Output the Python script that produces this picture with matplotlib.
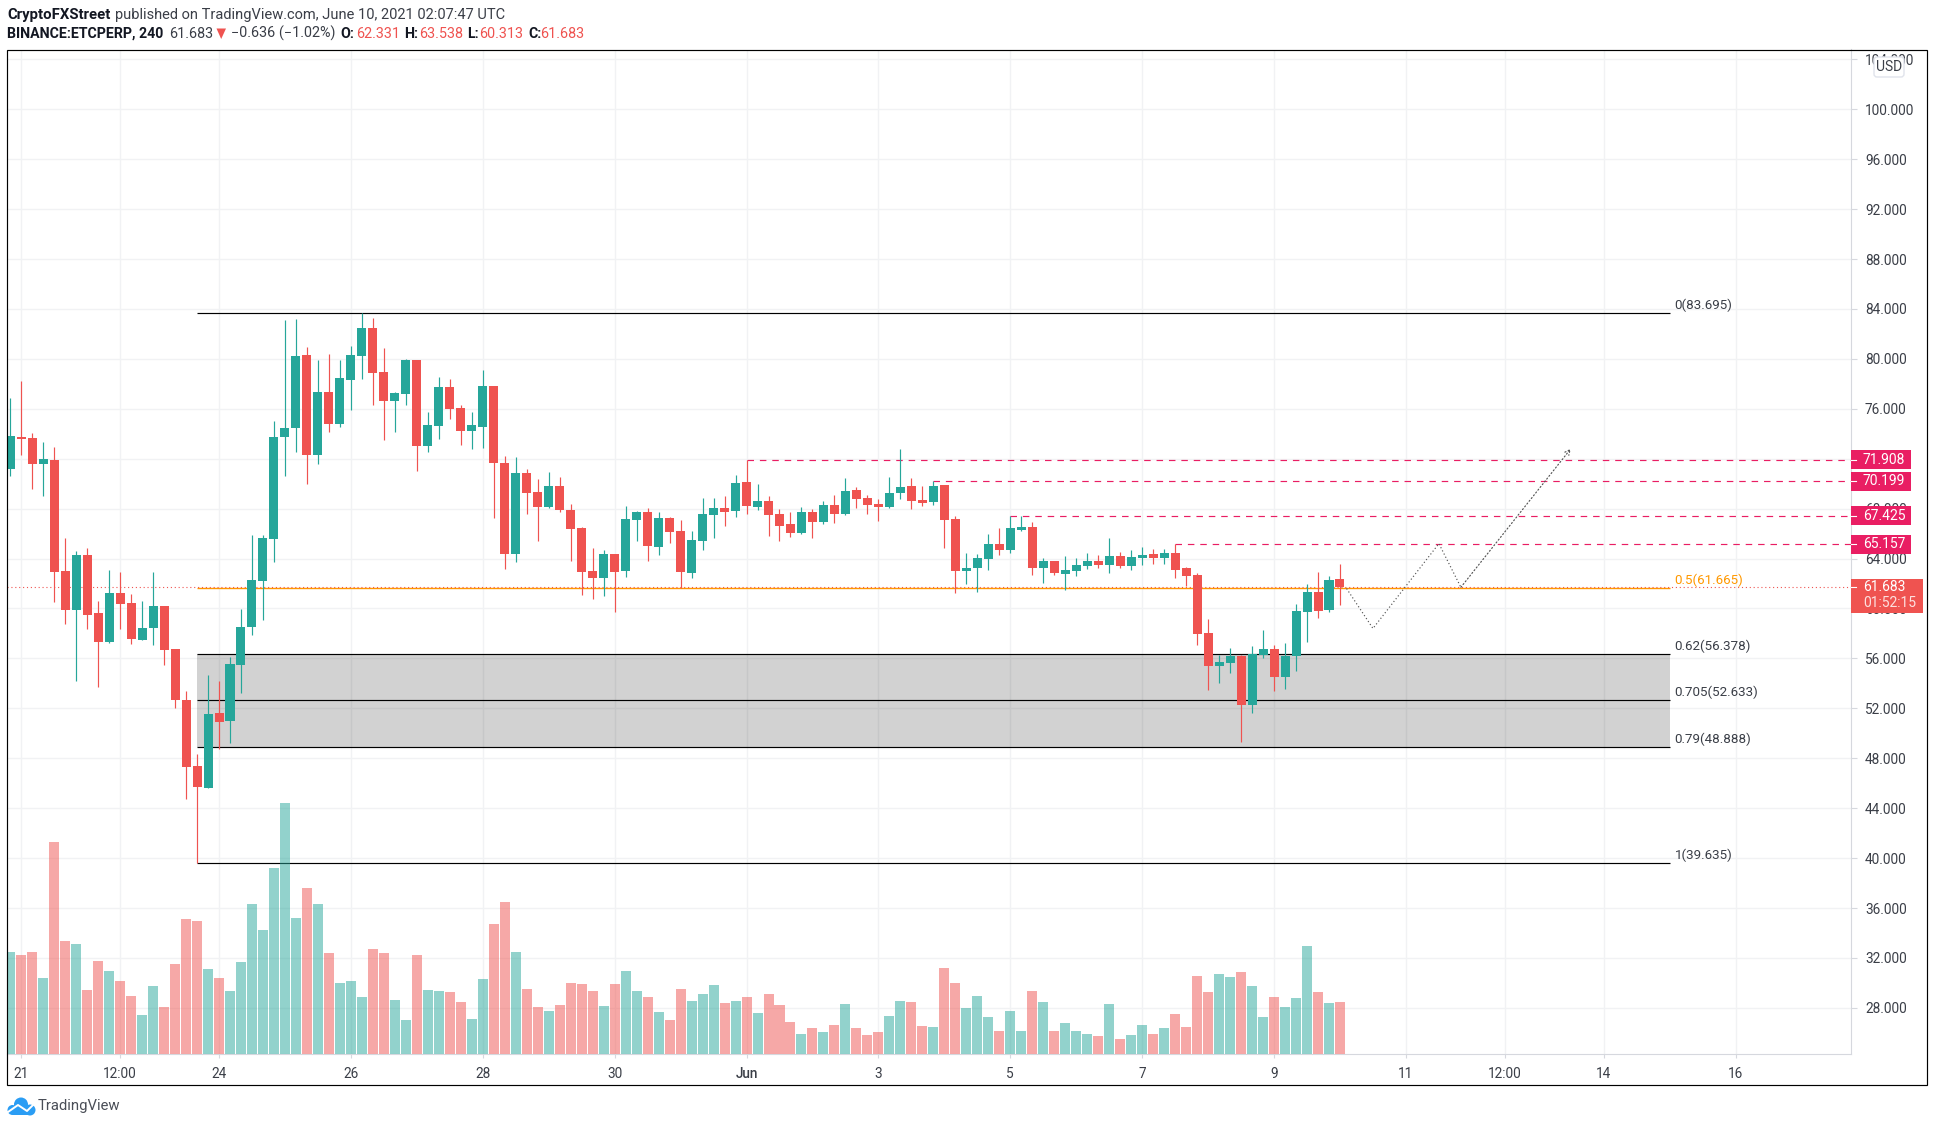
import matplotlib
matplotlib.use('Agg')
import matplotlib.pyplot as plt
from matplotlib.patches import Rectangle, FancyBboxPatch, Polygon, Circle
from matplotlib.transforms import Affine2D
import numpy as np

plt.rcParams['font.family'] = ['Roboto', 'DejaVu Sans']

# ETCPERP 4h candles
opens = [71.19, 73.76, 73.68, 71.59, 71.91, 63.02, 59.89, 64.30, 59.65, 57.33, 61.25, 60.45, 57.49, 58.45, 60.21,
         56.77, 52.68, 47.39, 45.63, 51.64, 51.00, 55.49, 58.53, 62.22, 65.58, 73.76, 74.48, 80.33, 72.31, 77.36,
         74.80, 78.32, 80.25, 82.49, 78.96, 76.64, 77.20, 79.93, 73.03, 74.64, 77.76, 76.08, 74.24, 74.56, 77.84,
         71.67, 64.38, 70.87, 69.35, 68.15, 69.83, 67.91, 66.46, 63.02, 62.46, 64.38, 63.02, 67.10, 67.75, 64.94,
         67.27, 66.23, 62.86, 65.42, 67.51, 68.07, 67.83, 70.15, 68.15, 68.63, 67.59, 66.79, 66.07, 67.75, 66.95,
         68.31, 67.59, 69.51, 68.87, 68.39, 68.15, 69.27, 69.83, 68.71, 68.55, 69.91, 67.19, 63.02, 63.26, 63.98,
         65.18, 64.70, 66.31, 66.55, 63.26, 63.82, 62.78, 63.02, 63.42, 63.82, 63.50, 64.22, 63.42, 64.06, 64.38,
         64.06, 64.46, 63.26, 62.70, 58.05, 55.41, 55.65, 56.21, 52.28, 56.29, 56.77, 54.53, 56.21, 59.74, 61.34,
         59.90, 62.331]
highs = [76.85, 78.24, 74.08, 73.35, 72.95, 65.66, 64.62, 64.86, 60.61, 63.10, 62.94, 61.17, 60.61, 62.94, 60.21,
         56.77, 53.40, 48.35, 54.68, 54.20, 56.13, 59.97, 65.90, 65.90, 75.04, 83.13, 83.21, 80.97, 79.93, 80.41,
         79.93, 81.05, 83.69, 83.29, 80.89, 77.36, 80.01, 79.93, 75.76, 78.56, 78.40, 76.32, 75.76, 79.12, 77.84,
         72.23, 72.15, 71.19, 70.39, 70.95, 70.55, 68.39, 66.54, 64.86, 64.70, 64.38, 68.23, 67.83, 68.07, 67.75,
         67.35, 67.11, 66.23, 68.87, 68.87, 69.03, 70.71, 71.89, 69.99, 69.03, 67.99, 67.75, 68.15, 67.99, 68.63,
         69.11, 70.47, 69.75, 69.11, 68.79, 70.55, 72.80, 70.47, 69.83, 70.20, 69.91, 67.43, 64.46, 64.38, 65.99,
         66.47, 67.40, 67.40, 66.95, 64.06, 63.82, 64.22, 64.06, 64.46, 64.30, 65.66, 64.54, 64.70, 64.94, 64.78,
         64.78, 65.16, 63.34, 62.86, 59.17, 56.29, 56.85, 56.29, 57.01, 58.29, 57.09, 57.25, 60.38, 61.98, 62.94,
         62.62, 63.538]
lows = [70.63, 72.31, 69.59, 69.03, 60.53, 58.77, 54.20, 58.37, 53.72, 57.25, 58.37, 57.17, 57.49, 57.09, 55.49,
        52.04, 44.75, 39.635, 45.63, 48.76, 49.24, 53.24, 57.89, 59.09, 63.74, 70.63, 72.55, 70.01, 71.59, 74.16,
        74.56, 75.92, 78.40, 76.32, 73.51, 74.16, 76.32, 71.03, 72.55, 73.59, 75.20, 73.11, 72.79, 72.87, 67.26,
        63.18, 63.74, 67.57, 65.42, 68.07, 67.75, 63.82, 61.09, 60.77, 61.01, 59.73, 62.54, 65.42, 63.82, 64.30,
        65.26, 61.63, 62.46, 64.70, 65.66, 66.63, 67.35, 67.59, 67.91, 65.82, 65.42, 65.74, 65.99, 65.66, 66.79,
        66.87, 67.51, 68.07, 67.59, 67.03, 68.07, 68.79, 67.99, 68.23, 68.31, 64.86, 61.26, 61.98, 61.34, 63.10,
        64.30, 64.46, 66.23, 62.70, 62.06, 62.70, 61.50, 62.62, 63.18, 63.26, 62.86, 63.26, 63.10, 63.50, 63.58,
        63.58, 62.46, 61.82, 57.09, 53.48, 54.05, 54.85, 49.32, 51.64, 56.05, 53.40, 53.56, 55.01, 57.33, 59.25,
        59.74, 60.313]
closes = [73.84, 73.59, 71.59, 71.99, 62.94, 59.89, 64.30, 59.49, 57.33, 61.25, 60.37, 57.57, 58.45, 60.21, 56.69,
          52.68, 47.31, 45.71, 51.56, 50.92, 55.57, 58.53, 62.30, 65.66, 73.76, 74.48, 80.25, 72.31, 77.36, 74.80,
          78.48, 80.33, 82.49, 78.88, 76.64, 77.28, 79.93, 73.03, 74.72, 77.76, 76.00, 74.24, 74.72, 77.84, 71.67,
          64.38, 70.87, 69.27, 68.15, 69.83, 67.91, 66.38, 62.94, 62.46, 64.38, 62.94, 67.18, 67.75, 65.02, 67.27,
          66.15, 62.94, 65.50, 67.59, 68.07, 67.75, 70.07, 68.23, 68.63, 67.51, 66.63, 66.07, 67.75, 66.95, 68.31,
          67.59, 69.43, 68.79, 68.31, 68.15, 69.27, 69.75, 68.63, 68.47, 69.83, 67.11, 63.02, 63.26, 64.06, 65.18,
          64.70, 66.47, 66.55, 63.26, 63.82, 62.86, 63.10, 63.50, 63.82, 63.50, 64.22, 63.42, 64.14, 64.30, 64.06,
          64.46, 63.10, 62.62, 57.97, 55.41, 55.73, 56.21, 52.28, 56.37, 56.77, 54.53, 56.21, 59.82, 61.34, 59.82,
          62.30, 61.683]
volumes = [306, 297, 306, 228, 636, 339, 330, 192, 279, 249, 219, 174, 117, 204, 141, 270, 405, 399, 255, 228,
           189, 276, 450, 372, 558, 753, 408, 498, 450, 303, 213, 219, 171, 315, 303, 162, 102, 297, 192, 189,
           186, 156, 105, 225, 390, 456, 306, 195, 141, 129, 147, 213, 210, 189, 144, 210, 249, 189, 171, 126,
           102, 195, 159, 180, 207, 153, 159, 171, 123, 180, 147, 96, 60, 78, 66, 87, 150, 78, 57, 66,
           114, 159, 156, 84, 81, 258, 213, 138, 174, 111, 69, 129, 69, 189, 156, 69, 93, 69, 60, 54,
           150, 45, 57, 87, 60, 78, 120, 81, 234, 186, 240, 231, 246, 204, 111, 171, 141, 168, 324, 186,
           153, 156]

price_ticks = [28, 32, 36, 40, 44, 48, 52, 56, 60, 64, 68, 72, 76, 80, 84, 88, 92, 96, 100, 104]
time_pos = [1, 10, 19, 31, 43, 55, 67, 79, 91, 103, 115, 127, 136, 145, 157]
time_labels = ['21', '12:00', '24', '26', '28', '30', 'Jun', '3', '5', '7', '9', '11', '12:00', '14', '16']

fib_levels = [83.695, 61.665, 56.378, 52.633, 48.888, 39.635]
fib_labels = ['0(83.695)', '0.5(61.665)', '0.62(56.378)', '0.705(52.633)', '0.79(48.888)', '1(39.635)']
fib_start, fib_end = 17, 151

res_levels = [71.908, 70.199, 67.425, 65.157]
res_start = [67, 84, 91, 106]

path_x = [121.6, 124, 130, 132, 142]
path_y = [61.6, 58.4, 65.2, 61.7, 72.8]
last_price = 61.683

TEAL = '#26a69a'
RED = '#ef5350'
PINK = '#e91e63'
ORANGE = '#ff9800'
GRID = '#f1f2f4'
TEXT = '#3a3e47'

W, H = 1935, 1127
# pane box in pixels
L, T, R, B = 6.5, 49.5, 1851, 1054


def fx(px):
    return px / W


def fy(py):
    return 1 - py / H


fig = plt.figure(figsize=(W / 100, H / 100), dpi=100, facecolor='white')
rect = [fx(L), fy(B), fx(R) - fx(L), fy(T) - fy(B)]
ax = fig.add_axes(rect, zorder=1)
ax_vol = fig.add_axes(rect, zorder=2)
ax_vol.patch.set_alpha(0)
ax_vol.axis('off')

x = np.arange(len(closes))
o, h, l, c = map(np.array, (opens, highs, lows, closes))
up = c >= o
colors = np.where(up, TEAL, RED)

ax.set_xlim((L - 10.2) / 10.99, (R - 10.2) / 10.99)
ax.set_ylim(100 - (B - 109.3) / 12.48, 100 - (T - 109.3) / 12.48)
ax_vol.set_xlim(ax.get_xlim())
ax_vol.set_ylim(0, (B - T) * 3)

# grid and axes
ax.set_axisbelow(True)
ax.grid(True, color=GRID, lw=1)
ax.yaxis.tick_right()
ax.set_yticks(price_ticks)
ax.set_yticklabels(['%.3f' % p for p in price_ticks])
ax.set_xticks(time_pos)
ax.set_xticklabels(time_labels)
ax.tick_params(axis='y', length=4, width=0.8, color='#d6d8de', labelcolor=TEXT, labelsize=9.8, pad=6)
ax.tick_params(axis='x', length=3, width=0.8, color='#d6d8de', labelcolor=TEXT, labelsize=9.8, pad=6)
ax.get_xticklabels()[6].set_fontweight('medium')
for s in ['left', 'top']:
    ax.spines[s].set_visible(False)
for s in ['right', 'bottom']:
    ax.spines[s].set_color('#d6d8de')

# fib box and lines
ax.fill_between([fib_start, fib_end], fib_levels[4], fib_levels[2], color='black', alpha=0.175, lw=0, zorder=1)
for lev in fib_levels:
    if lev == fib_levels[1]:
        ax.hlines(lev, fib_start, fib_end, color=ORANGE, lw=1.0, zorder=1.5)
    else:
        ax.hlines(lev, fib_start, fib_end, color='black', lw=0.85, zorder=1.5)
for lev, lab in zip(fib_levels, fib_labels):
    col = ORANGE if lev == fib_levels[1] else TEXT
    ax.annotate(lab, (fib_end, lev), xytext=(5, 1), textcoords='offset pixels', fontsize=9.6, color=col,
                va='bottom', ha='left', zorder=3)

# last price line
ax.axhline(last_price, color=RED, lw=0.8, ls=(0, (1, 2.5)), zorder=1.6)

# resistance lines
for lev, st in zip(res_levels, res_start):
    ax.hlines(lev, st, ax.get_xlim()[1], color=PINK, lw=0.85, ls=(0, (5.5, 5)), zorder=1.6)

# candles
ax.vlines(x, l, h, colors=colors, lw=0.85, zorder=2)
ax.bar(x, np.abs(c - o), bottom=np.minimum(o, c), width=0.82, color=colors, lw=0, zorder=2.1)

# volume
ax_vol.bar(x, volumes, width=0.91, color=colors, alpha=0.5, lw=0)

# projected path
ax.plot(path_x[:-1], path_y[:-1], color='#555555', lw=0.85, ls=(0, (1, 2)), zorder=3)
ax.annotate('', xy=(path_x[-1], path_y[-1]), xytext=(path_x[-2], path_y[-2]), zorder=3,
            arrowprops=dict(arrowstyle='->', color='#555555', lw=0.85, ls=(0, (1, 2)),
                            shrinkA=0, shrinkB=0, mutation_scale=9))

# price labels on the scale
ytr = ax.get_yaxis_transform()
lab_w = 60 / (R - L)
lab_h = 19 / 12.48
for lev in res_levels:
    ax.add_patch(Rectangle((1, lev - lab_h / 2), lab_w, lab_h, transform=ytr, color=PINK, lw=0, clip_on=False, zorder=4))
    ax.plot([1, 1 + 5 / (R - L)], [lev, lev], transform=ytr, color='white', lw=0.8, clip_on=False, zorder=5)
    ax.text(1 + 12 / (R - L), lev, '%.3f' % lev, transform=ytr, color='white', fontsize=10, va='center', ha='left',
            zorder=5)
ax.add_patch(Rectangle((1, last_price - 25.5 / 12.48), 72 / (R - L), 34.4 / 12.48, transform=ytr, color=RED, lw=0,
                       clip_on=False, zorder=4))
ax.plot([1, 1 + 5 / (R - L)], [last_price, last_price], transform=ytr, color='white', lw=0.8, clip_on=False, zorder=5)
ax.text(1 + 12 / (R - L), last_price, '%.3f' % last_price, transform=ytr, color='white', fontsize=10, va='center',
        ha='left', zorder=5)
ax.text(1 + 12 / (R - L), last_price - 16 / 12.48, '01:52:15', transform=ytr, color='#fde0df', fontsize=10,
        va='center', ha='left', zorder=5)

# outer frame
pix = Affine2D().scale(1 / W, -1 / H).translate(0, 1) + fig.transFigure
fig.add_artist(Rectangle((6.5, 49.5), 1920.5, 1035.5, transform=pix, fill=False, ec='black', lw=0.85, zorder=6))
fig.add_artist(FancyBboxPatch((1876, 59), 26, 16, boxstyle='round,pad=2,rounding_size=3', transform=pix, fc='white',
                              ec='#e0e3eb', lw=1, zorder=6))
fig.text(fx(1889), fy(67), 'USD', fontsize=10, color=TEXT, ha='center', va='center', zorder=7)

# header
hdr1 = [(7.3, 'CryptoFXStreet', '#131722', 'bold', 10.7),
        (115, 'published on TradingView.com, June 10, 2021 02:07:47 UTC', TEXT, 'normal', 10.5)]
hdr2 = [(7.3, 'BINANCE:ETCPERP, 240', '#131722', 'bold', 10.2), (169, '61.683', TEXT, 'normal', 10.4),
        (231, '\u22120.636 (\u22121.02%)', TEXT, 'normal', 10.4), (340, 'O:', '#131722', 'bold', 10.2),
        (356, '62.331', RED, 'normal', 10.4), (404, 'H:', '#131722', 'bold', 10.2), (419, '63.538', RED, 'normal', 10.4),
        (467, 'L:', '#131722', 'bold', 10.2), (479, '60.313', RED, 'normal', 10.4), (528, 'C:', '#131722', 'bold', 10.2),
        (540, '61.683', RED, 'normal', 10.4)]
for px, s, col, wt, size in hdr1:
    fig.text(fx(px), fy(14.5), s, fontsize=size, color=col, fontweight=wt, va='center')
for px, s, col, wt, size in hdr2:
    fig.text(fx(px), fy(33.5), s, fontsize=size, color=col, fontweight=wt, va='center')
fig.add_artist(Polygon([(216.5, 28.5), (226, 28.5), (221.2, 39)], transform=pix, color=RED, lw=0))

# footer logo
logo = '#2a9df4'
for cx, cy, rad in [(12.5, 1110, 5), (21, 1104.5, 7), (30, 1110, 5.5)]:
    fig.add_artist(Circle((cx, cy), rad, transform=pix, color=logo, lw=0))
fig.add_artist(Rectangle((12.5, 1108), 18, 7.3, transform=pix, color=logo, lw=0))
fig.add_artist(plt.Line2D([8, 18, 27, 33], [1112, 1105, 1111, 1105], transform=pix, color='white', lw=1.4))
fig.text(fx(37.5), fy(1106), 'TradingView', fontsize=10.7, color='#4a4e57', va='center')

fig.savefig('out.png', dpi=100, facecolor='white')
